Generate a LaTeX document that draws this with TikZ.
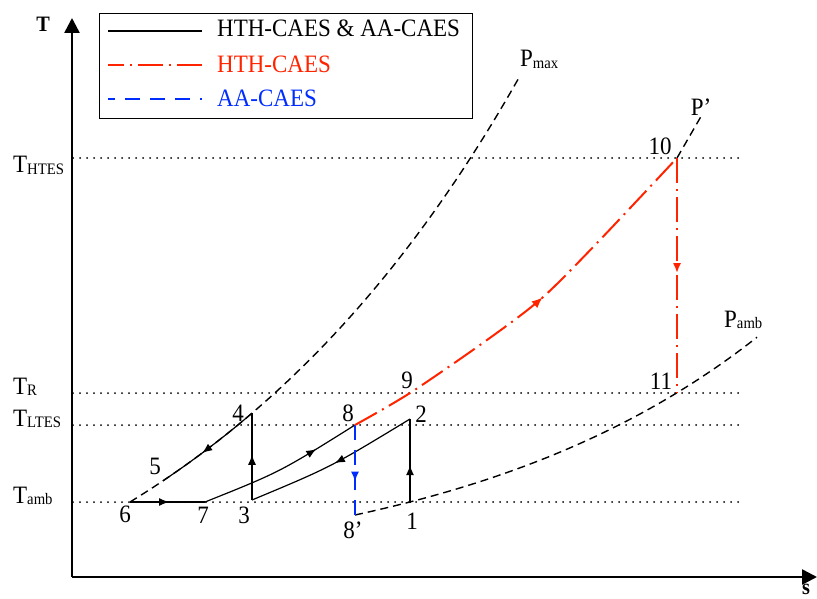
\documentclass[tikz,border=0pt]{standalone}
\usepackage{fontspec}
\setmainfont{Liberation Serif}[FakeStretch=0.92]
\usetikzlibrary{arrows.meta,decorations.markings}
\definecolor{myred}{RGB}{255,35,0}
\definecolor{myblue}{RGB}{0,45,255}
\newcommand\mylab{\fontsize{25}{25}\selectfont}
\newcommand\myaxlab{\fontsize{22}{22}\selectfont\bfseries}
\newcommand\mysub[1]{\raisebox{-1.5pt}{\fontsize{16}{16}\selectfont #1}}
\begin{document}
\begin{tikzpicture}[x=1pt,y=-1pt,
  lbl/.style={font=\mylab, inner sep=0pt},
  solidline/.style={line width=1.2pt},
  pcurve/.style={line width=1.4pt, dash pattern=on 8pt off 5pt},
  redline/.style={draw=myred, line width=2pt, dash pattern=on 25pt off 6pt on 2pt off 6pt},
  blueline/.style={draw=myblue, line width=2.2pt, dash pattern=on 15pt off 10pt},
  dotline/.style={line width=2pt, dash pattern=on 0pt off 7pt, line cap=round},
  axisline/.style={line width=2.5pt, -{Triangle[length=15pt,width=15pt]}},
  midarrow/.style={postaction={decorate,decoration={markings,
     mark=at position #1 with {\arrow{Latex[length=10pt,width=8pt]}}}}}
]
\useasboundingbox (0,0) rectangle (817,599);

% points
\coordinate (p1) at (410,503);
\coordinate (p2) at (410,419);
\coordinate (p3) at (252,500);
\coordinate (p4) at (252,413);
\coordinate (p6) at (130,502);
\coordinate (p7) at (205,502);
\coordinate (p8) at (355,425);
\coordinate (p8b) at (355,515);
\coordinate (p9) at (410,393);
\coordinate (p10) at (677,158);
\coordinate (p11) at (677,393);
\coordinate (ppend) at (703,113);

% axes
\coordinate (origin) at (72,577);
\coordinate (ytip) at (72,18);
\coordinate (xtip) at (817,577);
\draw[axisline] (origin) -- (ytip);
\draw[axisline] (origin) -- (xtip);
\node[font=\myaxlab, inner sep=0pt] (tax) at (43,24) {T};
\node[font=\myaxlab, inner sep=0pt] (sax) at (806,589) {s};

% dotted levels
\draw[dotline] (73,158) -- (742,158);
\draw[dotline] (73,393) -- (742,393);
\draw[dotline] (73,425) -- (742,425);
\draw[dotline] (73,502) -- (742,502);

\node[lbl, anchor=base west] (thtes) at (13,173) {T\mysub{HTES}};
\node[lbl, anchor=base west] (tr) at (13,394) {T\mysub{R}};
\node[lbl, anchor=base west] (tltes) at (13,426) {T\mysub{LTES}};
\node[lbl, anchor=base west] (tamb) at (13,503) {T\mysub{amb}};

% isobars
\draw[pcurve] plot[domain=130:519, samples=80] (\x, {502-226.2*(exp(0.00272*(\x-130))-1)});
\draw[pcurve] (p10) -- (ppend);
\draw[pcurve] plot[domain=355:757, samples=80] (\x, {515-67.7*(exp(0.0032*(\x-355))-1)});

\node[lbl, anchor=base west] (pmax) at (520,67) {P\mysub{max}};
\node[lbl] (pp) at (701,107) {P’};
\node[lbl, anchor=base west] (pamb) at (724,327) {P\mysub{amb}};

% black cycle
\draw[solidline, midarrow=0.52] (p6) -- (p7);
\draw[solidline, midarrow=0.73] (p7) .. controls (280,472) .. (p8);
\draw[solidline, midarrow=0.52] (p3) -- (p4);
\draw[solidline, midarrow=0.57] plot[domain=252:163, samples=30] (\x, {502-226.2*(exp(0.00272*(\x-130))-1)});
\draw[solidline, midarrow=0.49] (p2) .. controls (331,467) .. (p3);
\draw[solidline, midarrow=0.45] (p1) -- (p2);

% blue
\draw[blueline, midarrow=0.63, myblue] (p8) -- (p8b);

% red
\draw[redline, myred, postaction={decorate,decoration={markings,
     mark=at position 0.54 with {\arrow{Latex[length=11pt,width=9pt]}}}}]
  plot[smooth] coordinates {(p8) (p9) (487,340) (542,298) (597,243) (p10)};
\draw[redline, midarrow=0.49, myred] (p10) -- (p11);

% point labels
\node[lbl] (l1) at (412,521) {1};
\node[lbl] (l2) at (421,414) {2};
\node[lbl] (l3) at (244,515) {3};
\node[lbl] (l4) at (238,413) {4};
\node[lbl] (l5) at (155,466) {5};
\node[lbl] (l6) at (125,514) {6};
\node[lbl] (l7) at (203,515) {7};
\node[lbl] (l8) at (348,413) {8};
\node[lbl] (l8b) at (353,530) {8’};
\node[lbl] (l9) at (407,380) {9};
\node[lbl] (l10) at (660,146) {10};
\node[lbl] (l11) at (661,381) {11};

% legend
\node[draw, line width=0.8pt, minimum width=373pt, minimum height=105pt, anchor=north west, inner sep=0pt] (legend) at (99,13) {};
\coordinate (la1) at (108,31); \coordinate (lb1) at (202,31);
\coordinate (la2) at (108,65); \coordinate (lb2) at (202,65);
\coordinate (la3) at (108,99); \coordinate (lb3) at (202,99);
\draw[solidline] (la1) -- (lb1);
\draw[redline, dash phase=9pt] (la2) -- (lb2);
\draw[blueline, dash phase=8pt] (la3) -- (lb3);
\node[lbl, anchor=base west] (t1) at (217,37) {HTH-CAES \& AA-CAES};
\node[lbl, anchor=base west, text=myred] (t2) at (217,73) {HTH-CAES};
\node[lbl, anchor=base west, text=myblue] (t3) at (217,107) {AA-CAES};
\end{tikzpicture}
\end{document}
